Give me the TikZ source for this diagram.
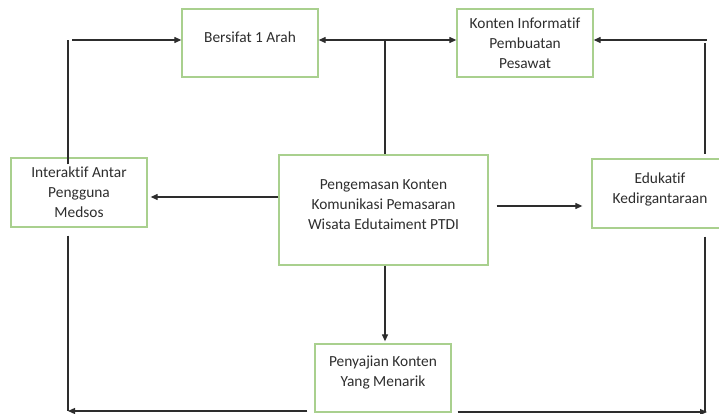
\documentclass[tikz,border=0pt]{standalone}
\usepackage{fontspec}
\setmainfont{Carlito}[Ligatures={NoCommon}]
\usetikzlibrary{arrows.meta}
\definecolor{boxgreen}{RGB}{169,208,142}
\definecolor{linegray}{RGB}{45,45,45}
\definecolor{textgray}{RGB}{45,45,45}

\begin{document}
\begin{tikzpicture}[x=1pt, y=-1pt,
    box/.style={draw=boxgreen, line width=1.3pt, rectangle, align=center,
      text=textgray, font=\fontsize{15.4}{20}\selectfont, inner sep=0pt},
    conn/.style={draw=linegray, line width=1.2pt},
    arr/.style={conn, -{Triangle[length=7pt, width=6pt]}},
    darr/.style={conn, {Triangle[length=7pt, width=6pt]}-{Triangle[length=7pt, width=6pt]}}]
      \useasboundingbox (0,0) rectangle (719,414);

      \node[box, minimum width=136pt, minimum height=68pt, text depth=12pt] (bersifat) at (250, 43) {Bersifat 1 Arah};
      \node[box, minimum width=136pt, minimum height=68pt] (konten) at (525, 43) {Konten Informatif\\Pembuatan\\Pesawat};
      \node[box, minimum width=136pt, minimum height=69pt] (interaktif) at (79, 192.5) {Interaktif Antar\\Pengguna\\Medsos};
      \node[box, minimum width=209pt, minimum height=110pt, text depth=10pt] (pengemasan) at (383.5, 210) {Pengemasan Konten\\Komunikasi Pemasaran\\Wisata Edutaiment PTDI};
      \node[box, minimum width=136pt, minimum height=69pt, text depth=10pt] (edukatif) at (660, 193.5) {Edukatif\\Kedirgantaraan};
      \node[box, minimum width=136pt, minimum height=68pt, text depth=14pt] (penyajian) at (383, 378) {Penyajian Konten\\Yang Menarik};

      \coordinate (tl) at (68, 40);
      \coordinate (bl) at (68, 411);
      \coordinate (tr) at (705, 40);
      \coordinate (br) at (707, 412);
      \coordinate (tc) at (385, 40);

      % left loop
      \draw[conn] ([yshift=-7pt]interaktif.north -| tl) -- (tl);
      \draw[arr] ([xshift=4pt]tl) -- (bersifat.west |- tl);
      \draw[conn] ([yshift=-8pt]interaktif.south -| tl) -- (bl);
      \draw[arr] ([xshift=-7pt]penyajian.south west |- bl) -- (bl);

      % right loop
      \draw[arr] ([xshift=2pt]tr) -- (konten.east |- tr);
      \draw[conn] ([yshift=-3pt]tr) -- ([yshift=4pt]edukatif.north -| tr);
      \draw[conn] ([yshift=-8pt]edukatif.south -| tr) -- ([xshift=-2pt]br);
      \draw[arr] ([xshift=6pt]penyajian.south east |- br) -- (br);

      % centre
      \draw[darr] (bersifat.east |- tc) -- (konten.west |- tc);
      \draw[conn] (tc) -- (pengemasan.north -| tc);
      \draw[arr] ([yshift=13pt]pengemasan.west) -- ([xshift=3pt, yshift=13pt]pengemasan.west -| interaktif.east);
      \draw[arr] ([xshift=8pt, yshift=4pt]pengemasan.east) coordinate (m) -- ([xshift=-9pt]m -| edukatif.west);
      \draw[arr] (pengemasan.south -| tc) -- ([yshift=2pt]penyajian.north -| tc);
\end{tikzpicture}
\end{document}
